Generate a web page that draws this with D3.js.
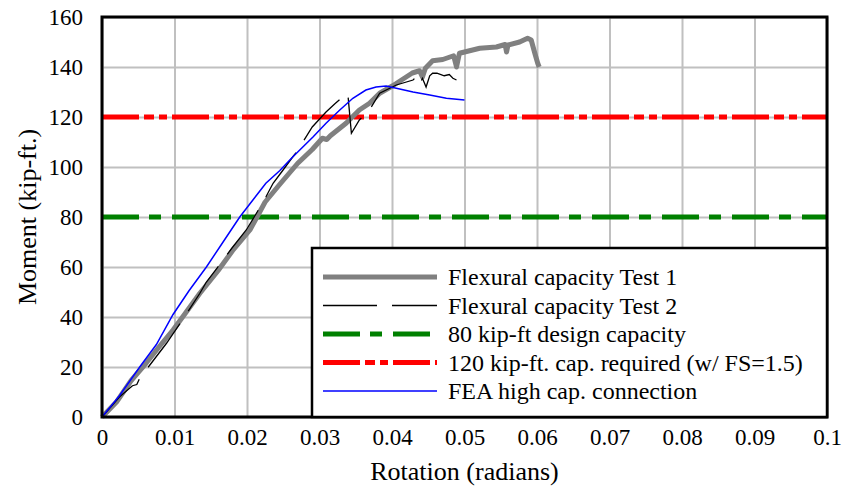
<!DOCTYPE html>
<html>
	<head>
		<meta charset="utf-8">
		<title>Moment vs Rotation</title>
		<script src="https://d3js.org/d3.v7.min.js"></script>
		<style>
			body { margin: 0; background: #fff; }
			text { font-family: "Liberation Serif", "Times New Roman", serif; fill: #000; }
		</style>
	</head>
	<body>
		<script>

			//Width and height
			var w = 846;
			var h = 493;

			//Plot box
			var plotLeft = 102, plotRight = 827, plotTop = 17, plotBottom = 417;

			//Test 1 (gray)
			var test1X = [0, 0.002, 0.004, 0.0061, 0.008, 0.0098, 0.0115, 0.0135, 0.016, 0.018, 0.0204, 0.021, 0.0225, 0.0245,
				0.027, 0.029, 0.0304, 0.031, 0.0315, 0.0337, 0.0355, 0.0369, 0.0383, 0.0401, 0.0428, 0.0438, 0.0442, 0.0446,
				0.0456, 0.047, 0.0485, 0.0489, 0.0493, 0.05, 0.0521, 0.0544, 0.0556, 0.0558, 0.056, 0.0576, 0.0587, 0.0592,
				0.0597, 0.0601, 0.0603];
			var test1Y = [0, 6, 14.5, 21.6, 28.5, 34.8, 41.5, 49.5, 58.5, 66.5, 74.8, 78, 86, 93,
				101.5, 107, 111.5, 111, 112.5, 117.6, 122.8, 125.5, 129.5, 132.5, 137.6, 138.5, 136, 139.5,
				142.5, 143, 144.5, 140, 145.5, 146, 147.5, 148, 149, 146, 148.8, 150, 151.5, 150.8,
				145.5, 141.5, 140];

			//Test 2 (black)
			var test2X = [0, 0.0024, 0.0042, 0.0048, 0.0052, 0.0066, 0.0089, 0.0111, 0.0135, 0.0144, 0.0162, 0.0179, 0.0199,
				0.0213, 0.0226, 0.0236, 0.0249, 0.0263, 0.027, 0.0277, 0.029, 0.0309, 0.0322, 0.0332, 0.0339, 0.0344,
				0.0355, 0.0369, 0.0383, 0.0406, 0.0429, 0.0433, 0.0438, 0.0442, 0.0447, 0.0452, 0.0456, 0.0462, 0.0472,
				0.0479, 0.0484, 0.0489];
			var test2Y = [0, 8, 12.5, 13, 15.5, 20.8, 29.5, 38.8, 49.5, 54, 60.8, 67.5, 74.8,
				81.5, 88, 93.5, 98.5, 104, 106.5, 110, 116, 122, 125.5, 128, 129.5, 113.5,
				118.8, 122.8, 129.5, 132.8, 134.8, 136, 133, 135.5, 132, 136.5, 137.5, 137.5, 136.5,
				137, 135.5, 134.8];

			//FEA (blue)
			var feaX = [0, 0.0024, 0.0052, 0.0075, 0.0098, 0.012, 0.0144, 0.0167, 0.019, 0.021, 0.0226, 0.0245, 0.0263,
				0.0291, 0.0309, 0.0328, 0.0346, 0.0364, 0.0378, 0.0392, 0.0406, 0.0429, 0.0452, 0.0475, 0.05];
			var feaY = [0, 8.5, 20, 29, 41, 50.5, 60, 70, 80, 87.5, 93.5, 98.5, 104,
				112, 117.5, 122.8, 127.5, 130.8, 132, 132.4, 131.5, 130, 128.8, 127.5, 126.8];

			//Capacity lines
			var designCap = 80;
			var requiredCap = 120;

			//Ticks
			var xTicks = [0, 0.01, 0.02, 0.03, 0.04, 0.05, 0.06, 0.07, 0.08, 0.09, 0.1];
			var yTicks = [0, 20, 40, 60, 80, 100, 120, 140, 160];

			var legendLabels = ["Flexural capacity Test 1", "Flexural capacity Test 2", "80 kip-ft design capacity",
				"120 kip-ft. cap. required (w/ FS=1.5)", "FEA high cap. connection"];

			var xScale = d3.scaleLinear().domain([0, 0.1]).range([plotLeft, plotRight]);
			var yScale = d3.scaleLinear().domain([0, 160]).range([plotBottom, plotTop]);

			var svg = d3.select("body")
						.append("svg")
						.attr("width", w)
						.attr("height", h);

			//Grid
			svg.append("g")
				.attr("transform", "translate(0," + plotBottom + ")")
				.call(d3.axisBottom(xScale).tickValues(xTicks).tickSize(-(plotBottom - plotTop)).tickFormat(""))
				.call(function(g) {
					g.select(".domain").remove();
					g.selectAll("line").attr("stroke", "#c0c0c0").attr("stroke-width", 2);
				});
			svg.append("g")
				.attr("transform", "translate(" + plotLeft + ",0)")
				.call(d3.axisLeft(yScale).tickValues(yTicks).tickSize(-(plotRight - plotLeft)).tickFormat(""))
				.call(function(g) {
					g.select(".domain").remove();
					g.selectAll("line").attr("stroke", "#c0c0c0").attr("stroke-width", 2);
				});

			//Tick labels
			svg.append("g")
				.attr("transform", "translate(" + (plotLeft - 19) + ",0)")
				.call(d3.axisLeft(yScale).tickValues(yTicks).tickSize(0).tickPadding(0).tickFormat(d3.format("d")))
				.call(function(g) {
					g.select(".domain").remove();
					g.selectAll("text").attr("font-size", "23px").attr("font-family", "Liberation Serif").attr("fill", "#000");
				});
			svg.append("g")
				.attr("transform", "translate(0," + (plotBottom + 12) + ")")
				.call(d3.axisBottom(xScale).tickValues(xTicks).tickSize(0).tickPadding(0).tickFormat(function(d) {
					return d === 0 ? "0" : d3.format(".2~f")(d);
				}))
				.call(function(g) {
					g.select(".domain").remove();
					g.selectAll("text").attr("font-size", "23px").attr("font-family", "Liberation Serif").attr("fill", "#000");
				});

			//Capacity lines
			svg.append("line")
				.attr("x1", plotLeft).attr("x2", plotRight)
				.attr("y1", yScale(designCap)).attr("y2", yScale(designCap))
				.attr("stroke", "#008000").attr("stroke-width", 5)
				.attr("stroke-dasharray", "37,10,12,11");
			svg.append("line")
				.attr("x1", plotLeft).attr("x2", plotRight)
				.attr("y1", yScale(requiredCap)).attr("y2", yScale(requiredCap))
				.attr("stroke", "#ff0000").attr("stroke-width", 5)
				.attr("stroke-dasharray", "37,5,10,5,8,5");

			var line = d3.line()
						.x(function(d) { return xScale(d[0]); })
						.y(function(d) { return yScale(d[1]); });

			svg.append("path")
				.datum(d3.zip(test1X, test1Y))
				.attr("d", line)
				.attr("fill", "none")
				.attr("stroke", "#808080")
				.attr("stroke-width", 5)
				.attr("stroke-linejoin", "round");

			svg.append("path")
				.datum(d3.zip(test2X, test2Y))
				.attr("d", line)
				.attr("fill", "none")
				.attr("stroke", "#000")
				.attr("stroke-width", 1.3)
				.attr("stroke-dasharray", "54,15");

			svg.append("path")
				.datum(d3.zip(feaX, feaY))
				.attr("d", line)
				.attr("fill", "none")
				.attr("stroke", "#0000ff")
				.attr("stroke-width", 1.5);

			//Plot frame
			svg.append("rect")
				.attr("x", plotLeft).attr("y", plotTop)
				.attr("width", plotRight - plotLeft).attr("height", plotBottom - plotTop)
				.attr("fill", "none").attr("stroke", "#000").attr("stroke-width", 3);

			//Legend
			var lg = svg.append("g").attr("transform", "translate(312,248)");
			lg.append("rect")
				.attr("width", plotRight - 312).attr("height", plotBottom - 248)
				.attr("fill", "#fff").attr("stroke", "#000").attr("stroke-width", 2.5);

			var legendStyle = [
				{ color: "#808080", width: 5, dash: null },
				{ color: "#000", width: 1.3, dash: "54,15" },
				{ color: "#008000", width: 5, dash: "37,10,12,11" },
				{ color: "#ff0000", width: 5, dash: "37,5,10,5,8,5" },
				{ color: "#0000ff", width: 1.5, dash: null }
			];

			var rows = lg.selectAll("g.row")
				.data(legendLabels)
				.enter()
				.append("g")
				.attr("class", "row")
				.attr("transform", function(d, i) { return "translate(0," + (29 + i * 28.5) + ")"; });

			rows.append("line")
				.attr("x1", 11).attr("x2", 125)
				.attr("stroke", function(d, i) { return legendStyle[i].color; })
				.attr("stroke-width", function(d, i) { return legendStyle[i].width; })
				.attr("stroke-dasharray", function(d, i) { return legendStyle[i].dash; });

			rows.append("text")
				.attr("x", 136)
				.attr("y", 8)
				.attr("font-size", "24px")
				.text(function(d) { return d; });

			//Axis titles
			svg.append("text")
				.attr("x", (plotLeft + plotRight) / 2)
				.attr("y", 480)
				.attr("text-anchor", "middle")
				.attr("font-size", "26px")
				.text("Rotation (radians)");

			svg.append("text")
				.attr("transform", "translate(36," + ((plotTop + plotBottom) / 2) + ") rotate(-90)")
				.attr("text-anchor", "middle")
				.attr("font-size", "26px")
				.text("Moment (kip-ft.)");

		</script>
	</body>
</html>
